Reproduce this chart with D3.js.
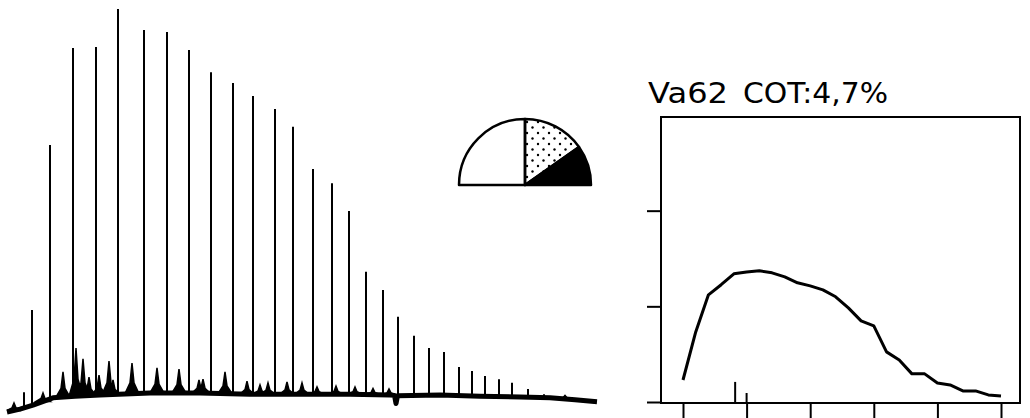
<!DOCTYPE html><html>
<head>
<meta charset="utf-8">
<style>
  body { margin: 0; background: #fff; }
  svg { display: block; }
</style>
</head><body>
<svg width="1030" height="418"></svg>

<script src="https://cdn.jsdelivr.net/npm/d3@7"></script>
<script>
// chromatogram: retention time (min) and peak height (% of max)
const peakRT     = [1.7, 2.5, 4.3, 6.6, 8.9, 11.1, 13.7, 16.0, 18.2, 20.4, 22.6, 24.6, 26.8, 28.6, 30.6,
                    32.5, 34.2, 35.9, 37.6, 39.1, 40.7, 42.2, 43.7, 45.2, 46.5, 47.8, 49.2, 50.5, 52.1, 53.7];
const peakHeight = [5.4, 25.7, 66.4, 90.4, 90.6, 100, 94.8, 94.3, 89.9, 84.4, 81.7, 78.5, 75.3, 70.9, 60.5,
                    57.0, 50.1, 35.1, 30.6, 24.0, 19.3, 16.3, 15.3, 11.6, 10.6, 9.4, 8.6, 7.7, 6.2, 4.9];

// small peaks between the n-alkanes
const minorRT     = [0.7, 3.6, 5.6, 6.9, 7.6, 8.2, 9.2, 10.2, 10.6, 12.5, 15.0, 17.2, 19.2, 19.6, 21.8,
                     24.0, 25.3, 26.1, 28.0, 29.5, 31.0, 32.9, 34.8, 36.6, 38.2, 55.8];
const minorHeight = [2.7, 5.2, 10.4, 16.3, 13.6, 9.1, 9.6, 13.1, 8.4, 12.6, 11.4, 11.1, 8.4, 8.6, 10.4,
                     8.1, 7.2, 7.7, 7.9, 7.7, 6.7, 6.9, 6.7, 6.3, 6.2, 4.6];

// baseline level
const baseRT    = [0, 1.3, 2.6, 4.6, 6.8, 9.3, 14.3, 19.3, 24.3, 29.3, 34.3, 38.3, 38.75, 38.9, 39.05, 43.3, 47.3, 51.3, 54.3, 56.8, 59.0];
const baseLevel = [0.5, 1.2, 2.2, 4.0, 4.4, 4.7, 5.2, 5.2, 4.9, 4.9, 4.9, 4.7, 4.6, 2.6, 4.5, 4.7, 4.4, 4.2, 4.0, 3.5, 3.0];

// half-disc of fractions
const pieNames  = ['white', 'dotted', 'black'];
const pieValues = [50, 30.5, 19.5];

// n-alkane distribution
const carbon = [15, 16, 17, 18, 19, 20, 21, 22, 23, 24, 25, 26, 27, 28, 29, 30, 31, 32, 33, 34, 35, 36, 37, 38, 39, 40];
const share  = [1.15, 3.66, 5.6, 6.13, 6.7, 6.8, 6.86, 6.75, 6.54, 6.23, 6.07, 5.86, 5.5, 4.92, 4.24, 3.98,
                2.62, 2.2, 1.47, 1.47, 0.99, 0.89, 0.58, 0.58, 0.37, 0.31];
const xTicks = [15, 20, 25, 30, 35, 40];
const yTicks = [0, 5, 10];
const markC  = [19.1, 20.0];
const markH  = [1.05, 0.47];

const svg = d3.select('svg');

// ---- chromatogram
const x1 = d3.scaleLinear().domain([0, 60]).range([7, 607]);
const y1 = d3.scaleLinear().domain([0, 100]).range([414, 9]);
const baseAt = d3.scaleLinear().domain(baseRT).range(baseLevel);

svg.append('path')
    .datum(baseRT.map((t, i) => [t, baseLevel[i]]))
    .attr('d', d3.line().x(d => x1(d[0])).y(d => y1(d[1])))
    .attr('fill', 'none').attr('stroke', '#000')
    .attr('stroke-width', 5).attr('stroke-linejoin', 'round');

const minor = minorRT.map((t, i) => ({t: t, h: minorHeight[i]}));
svg.selectAll('path.minor')
    .data(minor)
  .enter().append('path')
    .attr('class', 'minor')
    .attr('d', d => {
      const b = baseAt(d.t);
      return d3.line()([
        [x1(d.t - 0.7), y1(b)],
        [x1(d.t - 0.2), y1(b + (d.h - b) * 0.35)],
        [x1(d.t), y1(d.h)],
        [x1(d.t + 0.2), y1(b + (d.h - b) * 0.35)],
        [x1(d.t + 0.7), y1(b)]
      ]) + 'Z';
    })
    .attr('fill', '#000').attr('stroke', '#000').attr('stroke-width', 1.5);

svg.selectAll('line.peak')
    .data(peakRT.map((t, i) => ({t: t, h: peakHeight[i]})))
  .enter().append('line')
    .attr('class', 'peak')
    .attr('x1', d => x1(d.t)).attr('x2', d => x1(d.t))
    .attr('y1', d => y1(baseAt(d.t))).attr('y2', d => y1(d.h))
    .attr('stroke', '#000').attr('stroke-width', 2);

// ---- half disc
const defs = svg.append('defs');
const pat = defs.append('pattern').attr('id', 'dots')
    .attr('width', 11).attr('height', 11).attr('patternUnits', 'userSpaceOnUse');
pat.append('circle').attr('cx', 2).attr('cy', 3).attr('r', 1.2).attr('fill', '#000');
pat.append('circle').attr('cx', 7.5).attr('cy', 8.5).attr('r', 1.2).attr('fill', '#000');

const pie = d3.pie().sort(null).startAngle(-Math.PI / 2).endAngle(Math.PI / 2);
const arc = d3.arc().innerRadius(0).outerRadius(66);
const fills = {white: '#fff', dotted: 'url(#dots)', black: '#000'};
svg.append('g').attr('transform', 'translate(525,185)')
  .selectAll('path')
    .data(pie(pieValues))
  .enter().append('path')
    .attr('d', arc)
    .attr('fill', (d, i) => fills[pieNames[i]])
    .attr('stroke', '#000').attr('stroke-width', 2.5).attr('stroke-linejoin', 'round');

// ---- carbon distribution
const L = 661, R = 1020, T = 117, B = 403;
const x2 = d3.scaleLinear().domain([15, 40]).range([683, 1001]);
const y2 = d3.scaleLinear().domain([0, 15]).range([402, 115]);

svg.append('text').attr('x', 648).attr('y', 103)
    .attr('font-family', 'DejaVu Sans').attr('font-size', 29)
    .attr('textLength', 80).attr('lengthAdjust', 'spacingAndGlyphs').text('Va62');
svg.append('text').attr('x', 743).attr('y', 103)
    .attr('font-family', 'DejaVu Sans').attr('font-size', 29)
    .attr('textLength', 145).attr('lengthAdjust', 'spacingAndGlyphs').text('COT:4,7%');

svg.append('rect').attr('x', L).attr('y', T).attr('width', R - L).attr('height', B - T)
    .attr('fill', 'none').attr('stroke', '#000').attr('stroke-width', 2);

const yAxis = svg.append('g').attr('transform', `translate(${L},0)`)
    .call(d3.axisLeft(y2).tickValues(yTicks).tickSize(14).tickSizeOuter(0).tickFormat(''));
const xAxis = svg.append('g').attr('transform', `translate(0,${B})`)
    .call(d3.axisBottom(x2).tickValues(xTicks).tickSize(16).tickSizeOuter(0).tickFormat(''));
[yAxis, xAxis].forEach(g => {
  g.select('.domain').remove();
  g.selectAll('line').attr('stroke', '#000').attr('stroke-width', 2);
});

svg.selectAll('line.mark')
    .data(markC.map((c, i) => ({c: c, h: markH[i]})))
  .enter().append('line')
    .attr('class', 'mark')
    .attr('x1', d => x2(d.c)).attr('x2', d => x2(d.c))
    .attr('y1', y2(0)).attr('y2', d => y2(d.h))
    .attr('stroke', '#000').attr('stroke-width', 2);

svg.append('path')
    .datum(carbon.map((c, i) => [c, share[i]]))
    .attr('d', d3.line().x(d => x2(d[0])).y(d => y2(d[1])))
    .attr('fill', 'none').attr('stroke', '#000')
    .attr('stroke-width', 3).attr('stroke-linejoin', 'round');
</script>
</body></html>
